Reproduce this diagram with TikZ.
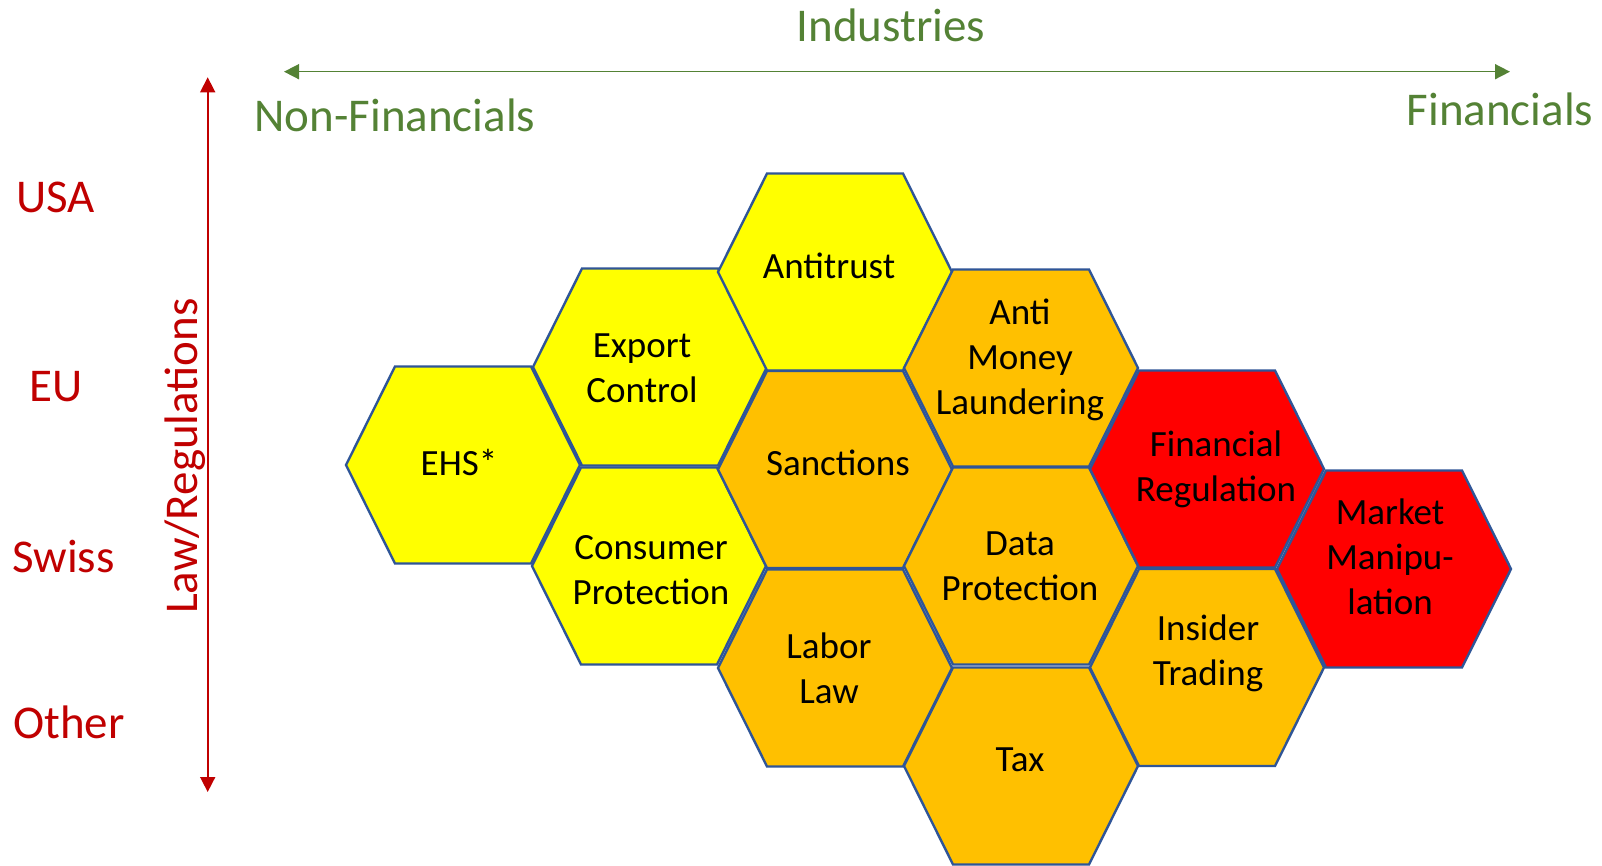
\documentclass[tikz,border=0pt]{standalone}
\usepackage{fontspec}
\setmainfont{Carlito}
\usetikzlibrary{arrows.meta}
\definecolor{hexyellow}{HTML}{FFFF00}
\definecolor{hexorange}{HTML}{FFC000}
\definecolor{hexred}{HTML}{FF0000}
\definecolor{hexline}{HTML}{2F5597}
\definecolor{axgreen}{HTML}{548235}
\definecolor{axred}{HTML}{C00000}
% name, cx, cy, fill, tx, ty, text
\newcommand\hexcell[7]{%
  \filldraw[hexborder, fill=#4] ({#2-117},{#3}) -- ({#2-68},{#3-98.5}) -- ({#2+68},{#3-98.5}) -- ({#2+117},{#3}) -- ({#2+68},{#3+98.5}) -- ({#2-68},{#3+98.5}) -- cycle;
  \node[hextext] (#1) at (#5,#6) {#7};}
\begin{document}
\begin{tikzpicture}[x=1pt,y=-1pt,
  hexborder/.style={draw=hexline, line width=2.4pt, line join=miter},
  hextext/.style={align=center, inner sep=0pt, font=\fontsize{37}{45}\selectfont, text=black},
  axlabel/.style={inner sep=0pt, font=\fontsize{47}{56}\selectfont},
  axarrow/.style={line width=1.6pt, {Triangle[length=15pt,width=15pt]}-{Triangle[length=15pt,width=15pt]}}]
\useasboundingbox (0,0) rectangle (1602,866);

% honeycomb
\hexcell{ehs}{463}{465}{hexyellow}{459}{462}{EHS*}
\hexcell{export}{650}{367}{hexyellow}{642}{368}{Export\\Control}
\hexcell{consumer}{649}{566}{hexyellow}{651}{570}{Consumer\\Protection}
\hexcell{antitrust}{835}{272}{hexyellow}{829}{266}{Antitrust}
\hexcell{sanctions}{835}{469.5}{hexorange}{838}{463}{Sanctions}
\hexcell{labor}{835}{668}{hexorange}{829}{668}{Labor\\Law}
\hexcell{aml}{1021}{368}{hexorange}{1020}{360}{Anti\\Money\\Laundering}
\hexcell{data}{1021}{566}{hexorange}{1020}{566}{Data\\Protection}
\hexcell{tax}{1021}{766}{hexorange}{1020}{760}{Tax}
\hexcell{finreg}{1207}{469}{hexred}{1216}{469}{Financial\\Regulation}
\hexcell{insider}{1207}{667.5}{hexorange}{1208}{653}{Insider\\Trading}
\hexcell{market}{1394}{569}{hexred}{1390}{557}{Market\\Manipu-\\lation}

% industries axis
\coordinate (gl) at (284,71.7);
\coordinate (gr) at (1510,71.7);
\draw[axarrow, axgreen] (gl) -- (gr);
\node[axlabel, text=axgreen, anchor=base] (industries) at (891,41.7) {Industries};
\node[axlabel, text=axgreen, anchor=base] (nonfin) at (395,131.7) {Non-Financials};
\node[axlabel, text=axgreen, anchor=base] (fin) at (1500,126) {Financials};

% law axis
\coordinate (rt) at (207.7,77.3);
\coordinate (rb) at (207.7,792);
\draw[axarrow, axred] (rt) -- (rb);
\node[axlabel, text=axred, rotate=90, anchor=base] (law) at (197,456) {Law/Regulations};
\node[axlabel, text=axred, anchor=base west] (usa) at (16,213) {USA};
\node[axlabel, text=axred, anchor=base] (eu) at (56,401) {EU};
\node[axlabel, text=axred, anchor=base west] (swiss) at (12,572) {Swiss};
\node[axlabel, text=axred, anchor=base west] (other) at (13,738) {Other};
\end{tikzpicture}
\end{document}
